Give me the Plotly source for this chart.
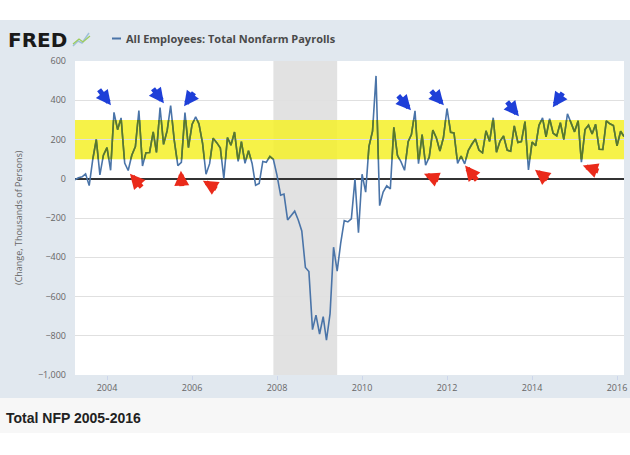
import pandas as pd
import plotly.graph_objects as go

# ---- data: monthly change in nonfarm payrolls (thousands) ----
start_month = "2003-04-01"
v2003 = [-5, 5, 10, 25, -35, 100, 200, 20, 120]  # Apr-Dec
v2004 = [159, 43, 338, 250, 310, 80, 42, 120, 164, 348, 65, 133]
v2005 = [134, 239, 134, 363, 175, 245, 373, 196, 67, 84, 337, 159]
v2006 = [277, 315, 280, 182, 23, 77, 207, 184, 157, 2, 210, 171]
v2007 = [238, 88, 189, 79, 143, 78, -33, -24, 88, 84, 114, 98]
v2008 = [17, -84, -78, -210, -185, -165, -209, -266, -452, -473, -769, -695]
v2009 = [-791, -703, -823, -687, -349, -471, -329, -213, -220, -204, -2, -275]
v2010 = [23, -68, 164, 243, 524, -137, -68, -36, -52, 262, 119, 87]
v2011 = [43, 189, 225, 346, 77, 225, 69, 110, 248, 209, 141, 209]
v2012 = [358, 237, 233, 78, 115, 76, 143, 177, 203, 146, 132, 244]
v2013 = [190, 311, 135, 192, 218, 146, 140, 269, 185, 189, 291, 45]
v2014 = [187, 168, 272, 310, 213, 306, 232, 218, 286, 200, 331, 286]
v2015 = [239, 295, 84, 251, 273, 228, 277, 150, 149, 295, 280, 271]
v2016 = [168, 242, 215]  # Jan-Mar

recession = ["2007-12-01", "2009-06-01"]
band = [100, 300]
y_ticks = [-1000, -800, -600, -400, -200, 0, 200, 400, 600]
x_tick_years = ["2004", "2006", "2008", "2010", "2012", "2014", "2016"]

# arrows: (tip date, tip value, tail dx px, tail dy px)
blue_arrows = [("2004-02-04", 374, -13, -17), ("2005-05-04", 385, -12, -16),
               ("2005-10-24", 369, 11, -15), ("2011-02-25", 349, -14, -16),
               ("2011-12-05", 374, -14, -16), ("2013-09-10", 318, -13, -16),
               ("2014-06-28", 364, 11, -16)]
red_arrows = [("2004-07-16", 26, 13, 15), ("2005-09-27", 41, 1, 17),
              ("2006-04-04", -10, 15, 9), ("2011-06-17", 26, 16, 7),
              ("2012-06-04", 67, 13, 16), ("2014-01-26", 46, 14, 11),
              ("2015-03-13", 67, 17, 6)]

values = v2003 + v2004 + v2005 + v2006 + v2007 + v2008 + v2009 + v2010 + \
    v2011 + v2012 + v2013 + v2014 + v2015 + v2016
dates = pd.date_range(start_month, periods=len(values), freq="MS")

# ---- layout helpers (pixel -> paper) ----
L, R, T, B = 75, 624, 61, 375
W, H = 630, 455
def PX(x):
    return (x - L) / (R - L)
def PY(y):
    return (B - y) / (B - T)

FRAME = "#e1e8ef"
LINE = "#4a74a8"

fig = go.Figure()
fig.add_trace(go.Scatter(x=dates, y=values, mode="lines",
                         line=dict(color=LINE, width=1.6), hoverinfo="skip",
                         showlegend=False))
# same series on an axis pair covering only the highlight band (shows dark green there)
fig.add_trace(go.Scatter(x=dates, y=values, mode="lines", xaxis="x2", yaxis="y2",
                         cliponaxis=True,
                         line=dict(color="#5b7a23", width=1.6), hoverinfo="skip",
                         showlegend=False))

lo, hi = y_ticks[0], y_ticks[-1]
shapes = [
    # frame pieces outside the plot
    dict(type="rect", xref="paper", yref="paper", x0=PX(-20), x1=PX(650),
         y0=PY(20), y1=PY(-20), fillcolor="white", line_width=0, layer="below"),
    dict(type="rect", xref="paper", yref="paper", x0=PX(-20), x1=PX(650),
         y0=PY(433), y1=PY(398), fillcolor="#f7f7f7", line_width=0, layer="below"),
    dict(type="rect", xref="paper", yref="paper", x0=PX(-20), x1=PX(650),
         y0=PY(480), y1=PY(433), fillcolor="white", line_width=0, layer="below"),
    # white plot area
    dict(type="rect", xref="paper", yref="paper", x0=0, x1=1, y0=0, y1=1,
         fillcolor="white", line_width=0, layer="below"),
    # recession
    dict(type="rect", xref="x", yref="paper", x0=recession[0], x1=recession[1],
         y0=0, y1=1, fillcolor="#e2e2e2", line_width=0, layer="below"),
    # yellow band
    dict(type="rect", xref="paper", yref="y", x0=0, x1=1, y0=band[0], y1=band[1],
         fillcolor="rgba(245,240,40,0.85)", line_width=0, layer="below"),
    # legend swatch
    dict(type="line", xref="paper", yref="paper", x0=PX(112), x1=PX(121),
         y0=PY(38.5), y1=PY(38.5), line=dict(color=LINE, width=2)),
    # FRED icon
    dict(type="path", xref="paper", yref="paper",
         path=f"M{PX(73)},{PY(46)} L{PX(78)},{PY(41)} L{PX(82)},{PY(43)} L{PX(89)},{PY(33)}",
         line=dict(color="#9fc0d8", width=1.5)),
    dict(type="path", xref="paper", yref="paper",
         path=f"M{PX(73)},{PY(44)} L{PX(79)},{PY(39)} L{PX(83)},{PY(42)} L{PX(90)},{PY(36)}",
         line=dict(color="#9ccc5a", width=1.2)),
]

anns = [
    dict(xref="paper", yref="paper", x=PX(6), y=PY(39.5), xanchor="left", yanchor="middle",
         text="<b>FRED</b>", showarrow=False,
         font=dict(family="DejaVu Sans", size=20, color="#1a1a1a")),
    dict(xref="paper", yref="paper", x=PX(124), y=PY(38.5), xanchor="left", yanchor="middle",
         text="<b>All Employees: Total Nonfarm Payrolls</b>", showarrow=False,
         font=dict(family="Open Sans", size=11, color="#4a4a4a")),
    dict(xref="paper", yref="paper", x=PX(18), y=0.5, xanchor="center", yanchor="middle",
         text="(Change, Thousands of Persons)", textangle=-90, showarrow=False,
         font=dict(family="Open Sans", size=9, color="#666")),
    dict(xref="paper", yref="paper", x=PX(4), y=PY(418), xanchor="left", yanchor="middle",
         text="<b>Total NFP 2005-2016</b>", showarrow=False,
         font=dict(family="Liberation Sans", size=14, color="#222")),
]
for d, v, dx, dy in blue_arrows:
    anns.append(dict(x=d, y=v, xref="x", yref="y", ax=dx, ay=dy, text="",
                     showarrow=True, arrowhead=2, arrowsize=0.6, arrowwidth=5,
                     arrowcolor="#1e3fd8", standoff=0))
for d, v, dx, dy in red_arrows:
    anns.append(dict(x=d, y=v, xref="x", yref="y", ax=dx, ay=dy, text="",
                     showarrow=True, arrowhead=2, arrowsize=0.6, arrowwidth=5,
                     arrowcolor="#ea2a1a", standoff=0))

band_lo = (band[0] - lo) / (hi - lo)
band_hi = (band[1] - lo) / (hi - lo)

fig.update_layout(
    width=W, height=H,
    margin=dict(l=L, r=W - R, t=T, b=H - B),
    paper_bgcolor=FRAME, plot_bgcolor="rgba(0,0,0,0)",
    shapes=shapes, annotations=anns, showlegend=False,
    xaxis=dict(type="date", range=[dates[0], dates[-1]],
               tickvals=[f"{y}-01-01" for y in x_tick_years], ticktext=x_tick_years,
               showgrid=False, ticks="outside", ticklen=4, tickcolor="#ccd6eb",
               showline=False, zeroline=False, automargin=False,
               tickfont=dict(family="Open Sans", size=9, color="#666")),
    yaxis=dict(range=[lo, hi], domain=[0, 1], tickvals=y_ticks,
               tickformat=",d", showgrid=True, gridcolor="#e0e0e0", gridwidth=1,
               zeroline=True, zerolinecolor="#333", zerolinewidth=1.6,
               showline=False, ticks="", ticklabelstandoff=8, automargin=False,
               tickfont=dict(family="Open Sans", size=9, color="#666")),
    xaxis2=dict(type="date", range=[dates[0], dates[-1]], anchor="y2",
                visible=False, showgrid=False, zeroline=False),
    yaxis2=dict(range=band, domain=[band_lo, band_hi], anchor="x2", visible=False,
                showgrid=False, zeroline=False),
)

fig.write_html("out.html", config={"displayModeBar": False},
               post_script="document.body.style.margin='0';")
